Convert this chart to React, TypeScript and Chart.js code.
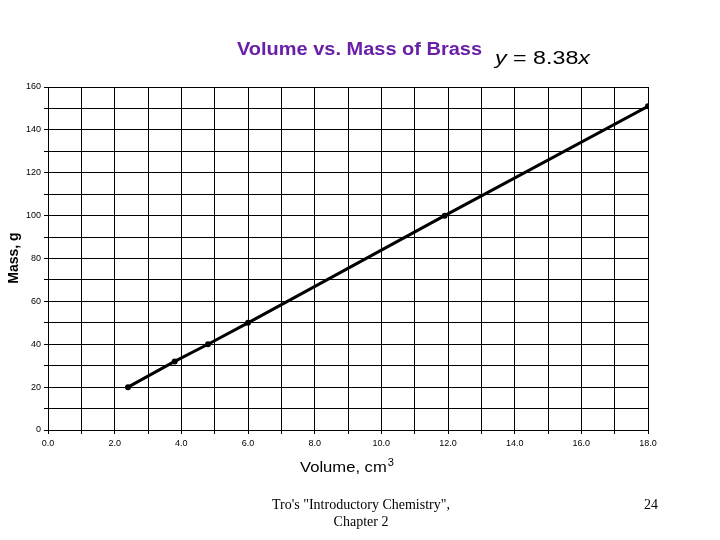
import React, { useEffect, useRef } from "react";
import { Chart, registerables } from "chart.js";

Chart.register(...registerables);

const volumes = [2.4, 3.8, 4.8, 6.0, 11.9, 18.0];
const masses = [20, 32, 40, 50, 100, 151];
const titleText = "Volume vs. Mass of Brass";
const fitText = ["y", " = 8.38", "x"];
const xTitle = "Volume, cm";
const yTitle = "Mass, g";
const footerLines = ['Tro\'s "Introductory Chemistry",', "Chapter 2"];
const pageNumber = "24";

const SANS = "'Liberation Sans', Arial, sans-serif";

const textPlugin = {
  id: "slideText",
  afterDraw(chart: any) {
    const ctx = chart.ctx;
    ctx.save();
    ctx.textBaseline = "alphabetic";

    // title, stretched to span 237..482
    ctx.fillStyle = "#6a1fa8";
    ctx.font = "bold 18px " + SANS;
    ctx.textAlign = "left";
    const tw = ctx.measureText(titleText).width;
    ctx.save();
    ctx.translate(237, 55);
    ctx.scale(245 / tw, 1);
    ctx.fillText(titleText, 0, 0);
    ctx.restore();

    // fit equation, stretched to span 495..590
    ctx.fillStyle = "#000";
    const fonts = ["italic 18px " + SANS, "18px " + SANS, "italic 18px " + SANS];
    let total = 0;
    const widths = fitText.map((t, i) => {
      ctx.font = fonts[i];
      const w = ctx.measureText(t).width;
      total += w;
      return w;
    });
    ctx.save();
    ctx.translate(495, 64);
    ctx.scale(95 / total, 1);
    let x = 0;
    fitText.forEach((t, i) => {
      ctx.font = fonts[i];
      ctx.fillText(t, x, 0);
      x += widths[i];
    });
    ctx.restore();

    // x title, span 300..394
    ctx.font = "15px " + SANS;
    const w1 = ctx.measureText(xTitle).width;
    ctx.font = "10px " + SANS;
    const w2 = ctx.measureText("3").width;
    const sx = 94 / (w1 + w2 + 1);
    ctx.save();
    ctx.translate(300, 472);
    ctx.scale(sx, 1);
    ctx.font = "15px " + SANS;
    ctx.fillText(xTitle, 0, 0);
    ctx.font = "10px " + SANS;
    ctx.fillText("3", w1 + 1, -6);
    ctx.restore();

    // y title
    ctx.save();
    ctx.translate(18, 258);
    ctx.rotate(-Math.PI / 2);
    ctx.font = "bold 14px " + SANS;
    ctx.textAlign = "center";
    ctx.fillText(yTitle, 0, 0);
    ctx.restore();

    // footer
    ctx.font = "14px 'Liberation Serif', 'Times New Roman', serif";
    ctx.textAlign = "center";
    ctx.fillText(footerLines[0], 361, 509);
    ctx.fillText(footerLines[1], 361, 526);
    ctx.fillText(pageNumber, 651, 509);
    ctx.restore();
  },
};

export default function App() {
  const ref = useRef<HTMLCanvasElement>(null);
  useEffect(() => {
    const chart = new Chart(ref.current as HTMLCanvasElement, {
      type: "scatter",
      data: {
        datasets: [
          {
            data: volumes.map((v, i) => ({ x: v, y: masses[i] })),
            showLine: true,
            borderColor: "#000",
            backgroundColor: "#000",
            borderWidth: 3,
            pointRadius: 3,
            pointBorderWidth: 0,
          },
        ],
      },
      options: {
        animation: false,
        responsive: false,
        devicePixelRatio: 1,
        layout: { padding: { left: 8, right: 72, top: 87, bottom: 90 } },
        plugins: { legend: { display: false }, tooltip: { enabled: false }, title: { display: false } },
        scales: {
          x: {
            type: "linear",
            min: 0,
            max: 18,
            afterFit: (s: any) => { s.height = 20; },
            grid: { color: "#000", lineWidth: 1, tickLength: 4, drawTicks: true },
            border: { color: "#000", width: 1 },
            ticks: {
              stepSize: 1,
              autoSkip: false,
              maxRotation: 0,
              color: "#000",
              padding: 4,
              font: { family: SANS, size: 9 },
              callback: (v: any) => (Math.round(v) % 2 === 0 ? Number(v).toFixed(1) : ""),
            },
          },
          y: {
            type: "linear",
            min: 0,
            max: 160,
            afterFit: (s: any) => { s.width = 40; },
            grid: { color: "#000", lineWidth: 1, tickLength: 4 },
            border: { color: "#000", width: 1 },
            ticks: {
              stepSize: 10,
              autoSkip: false,
              color: "#000",
              padding: 3,
              font: { family: SANS, size: 9 },
              callback: (v: any) => (Math.round(v) % 20 === 0 ? String(v) : ""),
            },
          },
        },
      },
      plugins: [textPlugin],
    });
    return () => chart.destroy();
  }, []);
  return (
    <div style={{ position: "absolute", left: 0, top: 0, width: 720, height: 540, background: "#fff" }}>
      <canvas ref={ref} width={720} height={540} style={{ width: 720, height: 540 }} />
    </div>
  );
}
